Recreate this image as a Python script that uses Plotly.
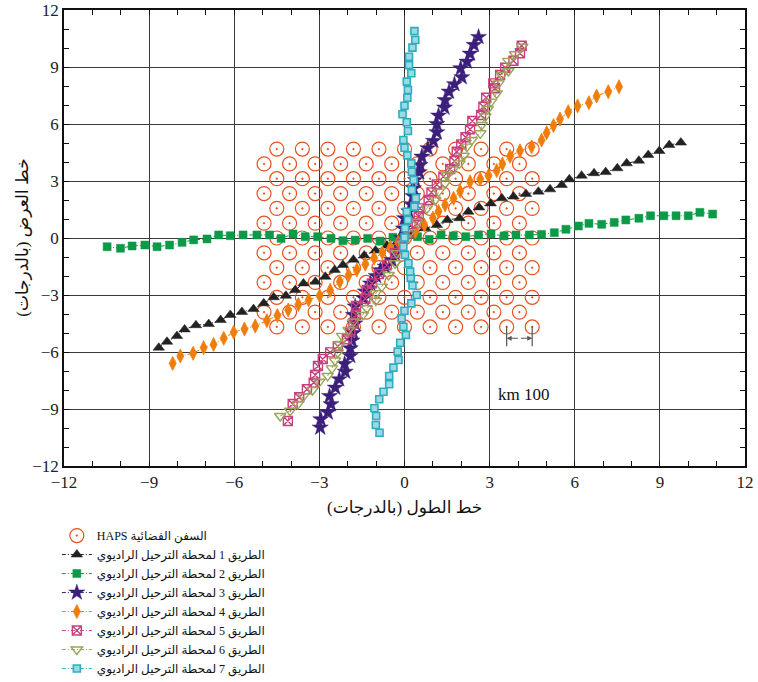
import plotly.graph_objects as go

# HAPS platforms: hexagonal lattice, rows of latitude with alternating longitude sets
haps_lat = [4.68, 3.9, 3.12, 2.34, 1.56, 0.78, 0.0, -0.78, -1.56, -2.34, -3.12, -3.9, -4.68]
haps_lon_even = [-4.5, -3.6, -2.7, -1.8, -0.9, 0.0, 0.9, 1.8, 2.7, 3.6, 4.5]
haps_lon_odd = [-4.95, -4.05, -3.15, -2.25, -1.35, -0.45, 0.45, 1.35, 2.25, 3.15, 4.05]

route1_lon = [-8.66, -8.37, -8.02, -7.75, -7.35, -6.90, -6.48, -6.14, -5.73, -5.32, -4.96, -4.61, -4.18,
              -3.85, -3.56, -3.14, -2.79, -2.46, -2.17, -1.80, -1.42, -1.02, -0.62, -0.20, 0.27, 0.73,
              1.14, 1.51, 1.94, 2.25, 2.63, 3.04, 3.43, 3.84, 4.28, 4.72, 5.13, 5.54, 5.81, 6.24, 6.68,
              7.09, 7.50, 7.83, 8.26, 8.59, 8.98, 9.33, 9.74]
route1_lat = [-5.77, -5.46, -5.16, -4.81, -4.59, -4.53, -4.32, -4.05, -3.89, -3.74, -3.44, -3.12, -3.04,
              -2.74, -2.39, -2.30, -2.04, -1.68, -1.42, -1.14, -0.92, -0.66, -0.40, -0.12, 0.22, 0.51,
              0.68, 0.95, 1.04, 1.38, 1.61, 1.82, 2.09, 2.18, 2.32, 2.44, 2.56, 2.79, 3.09, 3.28, 3.41,
              3.47, 3.67, 3.93, 4.07, 4.37, 4.58, 4.89, 5.02]

route2_lon = [-10.48, -10.01, -9.60, -9.15, -8.72, -8.28, -7.84, -7.43, -6.96, -6.55, -6.14, -5.69, -5.20,
              -4.76, -4.35, -3.93, -3.50, -3.06, -2.59, -2.17, -1.74, -1.30, -0.86, -0.41, 0.02, 0.46,
              0.87, 1.29, 1.72, 2.16, 2.61, 3.05, 3.51, 3.93, 4.40, 4.83, 5.28, 5.69, 6.13, 6.50, 6.95,
              7.39, 7.80, 8.26, 8.67, 9.14, 9.57, 10.00, 10.41, 10.86]
route2_lat = [-0.46, -0.54, -0.42, -0.37, -0.46, -0.37, -0.23, -0.10, -0.05, 0.16, 0.12, 0.16, 0.16,
              0.16, -0.02, 0.21, 0.07, 0.07, -0.02, -0.14, -0.11, -0.02, -0.16, 0.04, 0.07, 0.07,
              -0.07, 0.16, 0.11, 0.07, 0.16, 0.21, 0.11, 0.16, 0.16, 0.19, 0.28, 0.46, 0.63, 0.77, 0.72,
              0.82, 0.95, 1.04, 1.17, 1.17, 1.17, 1.17, 1.35, 1.26]

route3_lon = [-2.97, -2.95, -2.70, -2.59, -2.64, -2.44, -2.30, -2.09, -2.11, -1.91, -1.91, -1.85, -1.80,
              -1.75, -1.80, -1.74, -1.44, -1.38, -1.20, -1.00, -0.85, -0.68, -0.45, -0.35, -0.20, -0.10,
              -0.04, 0.00, 0.15, 0.26, 0.30, 0.32, 0.38, 0.52, 0.55, 0.61, 0.82, 1.02, 1.14, 1.14, 1.20,
              1.41, 1.43, 1.57, 1.76, 2.02, 1.98, 2.20, 2.31, 2.45, 2.61]
route3_lat = [-9.98, -9.54, -9.19, -8.75, -8.32, -7.88, -7.44, -7.04, -6.63, -6.21, -5.81, -5.40, -5.00,
              -4.50, -4.05, -3.61, -3.17, -2.82, -2.40, -2.00, -1.70, -1.51, -1.16, -0.80, -0.40, 0.00,
              0.50, 1.04, 1.40, 1.74, 2.20, 2.61, 3.05, 3.46, 3.84, 4.28, 4.72, 5.11, 5.56, 6.00, 6.44,
              6.86, 7.26, 7.70, 8.09, 8.46, 8.93, 9.28, 9.70, 10.16, 10.58]

route4_lon = [-8.17, -7.90, -7.45, -7.08, -6.73, -6.37, -6.02, -5.64, -5.26, -4.85, -4.48, -4.10, -3.74,
              -3.38, -2.99, -2.62, -2.28, -1.97, -1.68, -1.38, -1.07, -0.78, -0.50, -0.22, 0.08, 0.38,
              0.70, 1.00, 1.20, 1.43, 1.73, 1.96, 2.31, 2.67, 2.96, 3.25, 3.45, 3.72, 4.07, 4.48, 4.83,
              5.01, 5.25, 5.48, 5.77, 6.10, 6.50, 6.77, 7.18, 7.56]
route4_lat = [-6.60, -6.21, -6.07, -5.77, -5.60, -5.28, -4.96, -4.79, -4.63, -4.35, -4.08, -3.79, -3.50,
              -3.26, -3.04, -2.75, -2.30, -1.95, -1.68, -1.38, -1.05, -0.78, -0.50, -0.22, 0.05, 0.33,
              0.68, 1.05, 1.40, 1.74, 2.09, 2.47, 2.96, 3.10, 3.28, 3.55, 3.90, 4.30, 4.59, 4.80, 5.15,
              5.54, 5.92, 6.26, 6.65, 6.95, 7.12, 7.47, 7.70, 7.96]

route5_lon = [-4.11, -3.94, -3.71, -3.44, -3.20, -3.15, -3.05, -2.88, -2.62, -2.35, -2.03, -1.91, -1.80,
              -1.71, -1.71, -1.38, -1.33, -1.15, -0.90, -0.62, -0.33, -0.10, 0.15, 0.43, 0.50, 0.55,
              0.85, 0.95, 1.14, 1.37, 1.61, 1.76, 1.84, 2.00, 2.15, 2.31, 2.39, 2.70, 2.78, 2.88, 3.19,
              3.13, 3.37, 3.55, 3.84, 4.07, 4.13]
route5_lat = [-9.63, -8.74, -8.38, -7.96, -7.61, -7.21, -6.74, -6.37, -6.02, -5.70, -5.33, -4.93, -4.50,
              -4.05, -3.58, -3.20, -2.74, -2.39, -1.90, -1.42, -0.80, -0.30, 0.25, 0.77, 1.15, 1.56,
              2.00, 2.40, 2.82, 3.23, 3.63, 4.05, 4.54, 4.93, 5.30, 5.72, 6.16, 6.47, 6.91, 7.38, 7.88,
              8.14, 8.58, 8.96, 9.33, 9.72, 10.12]

route6_lon = [-4.38, -4.03, -3.76, -3.56, -3.24, -3.00, -2.71, -2.56, -2.45, -2.35, -2.29, -2.20, -1.97,
              -1.80, -1.47, -1.33, -1.01, -1.01, -0.80, -0.56, -0.33, -0.27, -0.05, 0.20, 0.45, 0.79,
              1.08, 1.20, 1.43, 1.50, 1.70, 1.94, 2.08, 2.20, 2.37, 2.67, 2.72, 2.85, 2.93, 3.05, 3.25,
              3.31, 3.43, 3.66, 3.66, 3.90, 4.15]
route6_lat = [-9.37, -9.09, -8.74, -8.32, -8.00, -7.56, -7.26, -6.86, -6.45, -6.02, -5.58, -5.15, -4.84,
              -4.40, -4.05, -3.70, -3.30, -2.90, -2.56, -1.95, -1.33, -0.80, -0.30, 0.30, 0.85, 1.56,
              2.00, 2.44, 2.88, 3.30, 3.60, 3.93, 4.33, 4.81, 5.16, 5.51, 5.95, 6.40, 6.79, 7.18, 7.61,
              8.14, 8.58, 8.79, 9.32, 9.67, 10.07]

route7_lon = [-0.88, -1.01, -1.00, -1.06, -0.89, -0.74, -0.54, -0.54, -0.39, -0.21, -0.24, -0.15, 0.05,
              -0.04, -0.10, 0.00, 0.24, 0.43, 0.28, 0.22, 0.20, 0.14, 0.02, -0.04, 0.00, 0.02, 0.12,
              0.08, 0.35, 0.40, 0.26, 0.32, 0.26, 0.24, 0.10, 0.00, -0.04, 0.12, 0.08, -0.07, 0.00,
              0.10, 0.12, 0.08, 0.24, 0.16, 0.16, 0.28, 0.38, 0.35]
route7_lat = [-10.25, -9.84, -9.37, -8.96, -8.49, -8.09, -7.70, -7.26, -6.82, -6.42, -5.98, -5.51, -5.10,
              -4.67, -4.23, -3.83, -3.44, -3.00, -2.50, -2.10, -1.77, -1.33, -0.89, -0.46, 0.03, 0.51,
              0.95, 1.38, 1.65, 2.09, 2.53, 3.05, 3.49, 3.93, 4.35, 4.75, 5.16, 5.63, 6.09, 6.51, 6.96,
              7.38, 7.79, 8.23, 8.67, 9.10, 9.54, 10.02, 10.42, 10.89]

haps_name = "HAPS السفن الفضائية"
route_names = [f"الطريق {i} لمحطة الترحيل الراديوي" for i in range(1, 8)]
x_title = "خط الطول (بالدرجات)\u200f"
y_title = "خط العرض (بالدرجات)\u200f"

# scale bar for 100 km between two neighbouring platforms
scale_lon = [3.6, 4.5]
scale_lat_top, scale_lat_bottom, scale_lat_bar = -4.65, -5.7, -5.28
scale_label = "km 100"
scale_label_pos = (4.2, -8.26)

SERIF = "Liberation Serif, Times New Roman, DejaVu Serif, DejaVu Sans, serif"

haps_x, haps_y = [], []
for i, lat in enumerate(haps_lat):
    lons = haps_lon_even if i % 2 == 0 else haps_lon_odd
    haps_x.extend(lons)
    haps_y.extend([lat] * len(lons))

fig = go.Figure()

fig.add_trace(go.Scatter(
    x=haps_x, y=haps_y, mode="markers", name=haps_name,
    marker=dict(symbol="circle-open-dot", size=14, color="#E8501E", line=dict(width=1.2, color="#E8501E")),
))

styles = [
    dict(color="#222222", symbol="triangle-up", size=10, lw=0.5, fillc=None),
    dict(color="#0A9A48", symbol="square", size=8, lw=0.5, fillc=None),
    dict(color="#3B1F7A", symbol="star", size=12, lw=0.5, fillc=None),
    dict(color="#F07D0A", symbol="diamond-tall", size=10, lw=0.8, fillc=None),
    dict(color="#C8407E", symbol="square-x-open", size=9, lw=1.4, fillc=None),
    dict(color="#9CA35A", symbol="triangle-down-open", size=10, lw=1.4, fillc=None),
    dict(color="#2FADC0", symbol="square", size=7, lw=1.6, fillc="#9ADAE2"),
]
routes = [
    (route1_lon, route1_lat), (route2_lon, route2_lat), (route3_lon, route3_lat),
    (route4_lon, route4_lat), (route5_lon, route5_lat), (route6_lon, route6_lat),
    (route7_lon, route7_lat),
]

for (lon, lat), st, name in zip(routes, styles, route_names):
    marker = dict(symbol=st["symbol"], size=st["size"], color=st["fillc"] or st["color"],
                  line=dict(width=st["lw"], color=st["color"]))
    fig.add_trace(go.Scatter(
        x=lon, y=lat, mode="lines+markers", name=name,
        line=dict(color=st["color"], width=1, dash="4px,2px,1px,2px"),
        marker=marker,
    ))

# scale bar
for lon in scale_lon:
    fig.add_shape(type="line", x0=lon, x1=lon, y0=scale_lat_top, y1=scale_lat_bottom,
                  xref="x", yref="y", line=dict(color="#555555", width=1.2))
mid = (scale_lon[0] + scale_lon[1]) / 2
for lon in scale_lon:
    fig.add_annotation(x=lon, y=scale_lat_bar, ax=mid, ay=scale_lat_bar, axref="x", ayref="y",
                       xref="x", yref="y", text="", showarrow=True, arrowhead=2, arrowsize=0.9,
                       arrowwidth=1.1, arrowcolor="#555555", standoff=0, startstandoff=0)
fig.add_annotation(x=scale_label_pos[0], y=scale_label_pos[1], text=scale_label, showarrow=False,
                   xref="x", yref="y", font=dict(family=SERIF, size=17, color="#111111"))

# axis titles
fig.add_annotation(x=0.5, y=-0.09, xref="paper", yref="paper", text=x_title, showarrow=False,
                   xanchor="center", yanchor="middle", font=dict(family=SERIF, size=17, color="#111111"))
fig.add_annotation(x=-0.062, y=0.5, xref="paper", yref="paper", text=y_title, showarrow=False,
                   textangle=-90, xanchor="center", yanchor="middle",
                   font=dict(family=SERIF, size=17, color="#111111"))

axis_common = dict(
    range=[-12, 12], dtick=3, tick0=0,
    showgrid=True, gridcolor="#3a3a3a", gridwidth=1,
    zeroline=True, zerolinecolor="#3a3a3a", zerolinewidth=1,
    showline=True, linecolor="#111111", linewidth=1.5, mirror="ticks",
    ticks="inside", ticklen=5, tickcolor="#111111",
    minor=dict(dtick=1, ticks="inside", ticklen=5, tickcolor="#111111", showgrid=False),
    tickfont=dict(family=SERIF, size=17, color="#222222"),
    fixedrange=True,
)

fig.update_xaxes(**axis_common)
fig.update_yaxes(**axis_common)

fig.update_layout(
    width=758, height=682,
    margin=dict(l=64, r=13, t=10, b=216, autoexpand=False),
    paper_bgcolor="white", plot_bgcolor="white",
    showlegend=True,
    legend=dict(
        xref="container", yref="container", x=0.075, y=0.236, xanchor="left", yanchor="top",
        font=dict(family=SERIF, size=12, color="#111111"),
        bgcolor="rgba(0,0,0,0)", tracegroupgap=0, itemwidth=30,
    ),
)

fig.write_html("out.html")
